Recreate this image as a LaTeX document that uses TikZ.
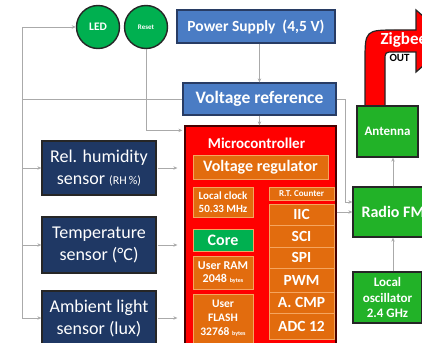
\documentclass[tikz,border=0pt]{standalone}
\usepackage{fontspec}
\setmainfont{Carlito}
\usetikzlibrary{arrows.meta}
\definecolor{cblue}{RGB}{74,124,196}
\definecolor{cblueb}{RGB}{40,60,100}
\definecolor{cnavy}{RGB}{31,56,100}
\definecolor{cgreen}{RGB}{0,176,80}
\definecolor{cgbox}{RGB}{34,178,40}
\definecolor{corange}{RGB}{226,108,14}
\definecolor{corangeb}{RGB}{245,165,95}
\definecolor{cred}{RGB}{255,0,0}
\definecolor{credb}{RGB}{70,0,0}
\definecolor{cline}{RGB}{170,170,170}
\newcommand{\fs}[2]{\fontsize{#1}{#2}\selectfont}
\begin{document}
\begin{tikzpicture}[x=1pt,y=-1pt,
  conn/.style={draw=cline, line width=0.8pt, -{Stealth[length=4pt,width=3.5pt]}},
  plain/.style={draw=cline, line width=0.8pt},
  bx/.style={rectangle, inner sep=0pt, align=center, text=white},
  circ/.style={circle, inner sep=0pt, minimum size=43pt, fill=cgreen, draw=black!85, line width=1.4pt, text=white},
  bluebox/.style={bx, fill=cblue, draw=cblueb, line width=1.3pt},
  navybox/.style={bx, fill=cnavy, draw=black!85, line width=1.3pt, font=\fs{18}{22}},
  redbox/.style={bx, fill=cred, draw=credb, line width=1.3pt},
  orbox/.style={bx, fill=corange, draw=corangeb, line width=0.6pt, font=\bfseries\fs{12}{13.5}},
  corebox/.style={bx, fill=cgreen, draw=corangeb, line width=0.6pt, font=\bfseries\fs{16}{18}},
  cell/.style={orbox, minimum width=65pt, font=\bfseries\fs{15.5}{18}},
  gbox/.style={bx, fill=cgbox, draw=black!85, line width=1.3pt, font=\bfseries\fs{13}{15.5}},
]
\useasboundingbox (0,0) rectangle (422,342);
\clip (0,0) rectangle (422,342);
\fill[white] (0,0) rectangle (422,342);

% circles
\node[circ, font=\bfseries\fs{11.5}{13}] (led) at (98,27) {LED};
\node[circ, font=\bfseries\fs{7}{8}] (reset) at (146,27) {Reset};

% blue boxes
\node[bluebox, minimum width=158pt, minimum height=33pt, font=\bfseries\fs{15.5}{18}] (power) at (256,26.5) {Power Supply\ \ (4,5 V)};
\node[bluebox, minimum width=153pt, minimum height=32pt, font=\bfseries\fs{17.5}{20}] (vref) at (259.5,99) {Voltage reference};

% microcontroller
\node[redbox, minimum width=151pt, minimum height=224pt] (micro) at (260.5,238) {};
\node[text=white, font=\bfseries\fs{15}{18}] (mtitle) at (256.5,143) {Microcontroller};
\node[orbox, minimum width=135pt, minimum height=24pt, font=\bfseries\fs{16}{18}] (vreg) at (260.5,167) {Voltage regulator};
\node[orbox, minimum width=60pt, minimum height=30pt, font=\bfseries\fs{11}{13}] (clock) at (223,202) {Local clock\\50.33 MHz};
\node[orbox, minimum width=65pt, minimum height=13pt, font=\bfseries\fs{9}{10}] (rtc) at (301.5,193.5) {R.T. Counter};
\node[corebox, minimum width=60pt, minimum height=22pt] (core) at (223,240) {Core};
\node[orbox, minimum width=60pt, minimum height=33pt] (ram) at (223,272.5) {User RAM\\2048 {\fs{6}{7}bytes}};
\node[orbox, minimum width=60pt, minimum height=49pt, font=\bfseries\fs{11.5}{14}] (flash) at (223,318.5) {User\\FLASH\\32768 {\fs{6}{7}bytes}};
\node[cell, minimum height=21pt] (iic) at (301.5,214.5) {IIC};
\node[cell, minimum height=22pt] (sci) at (301.5,236) {SCI};
\node[cell, minimum height=21pt] (spi) at (301.5,257.5) {SPI};
\node[cell, minimum height=24pt] (pwm) at (301.5,280) {PWM};
\node[cell, minimum height=21pt] (acmp) at (301.5,302.5) {A. CMP};
\node[cell, minimum height=26pt] (adc) at (301.5,326) {ADC 12};

% sensors
\node[navybox, minimum width=114pt, minimum height=54pt] (hum) at (99,168) {Rel. humidity\\sensor {\fs{12}{14}(RH\,\%)}};
\node[navybox, minimum width=114pt, minimum height=56pt] (temp) at (99,245) {Temperature\\sensor (°C)};
\node[navybox, minimum width=114pt, minimum height=54pt] (amb) at (99,318) {Ambient light\\sensor (lux)};

% zigbee arrow
\draw[fill=cred, draw=black!85, line width=1.2pt] (365,106) -- (365,62) .. controls (365,30) .. (397,30) -- (416,30) -- (416,10) -- (452,41) -- (416,72) -- (416,52) -- (394,52) .. controls (385,52) .. (385,61) -- (385,106) -- cycle;
\node[anchor=base west, text=white, font=\bfseries\fs{17}{20}] (zig) at (377,45) {Zigbee};
\node[anchor=base west, text=black, font=\bfseries\fs{11}{13}] (out) at (386,62) {OUT};

% green boxes
\node[gbox, minimum width=61pt, minimum height=51pt] (ant) at (387.5,131.5) {Antenna};
\node[gbox, minimum width=80pt, minimum height=50pt, font=\bfseries\fs{16}{19}] (radio) at (393,212) {Radio FM};
\node[gbox, minimum width=69pt, minimum height=51pt] (osc) at (387.5,297.5) {Local\\oscillator\\2.4 GHz};

% connectors
\coordinate (b1) at (22,99);
\draw[plain] (vref.west) -- (b1);
\draw[conn] (b1) |- (led.west);
\draw[conn] (b1) |- (hum.west);
\draw[conn] (b1) |- (temp.west);
\draw[conn] (b1) |- (amb.west);
\draw[conn, shorten >=2pt] (reset.south) |- ([yshift=-5pt]micro.north west);
\draw[conn] (vref.north |- power.south) -- (vref.north);
\draw[conn] (vref.south) -- (vref.south |- micro.north);
\draw[conn, shorten <=1pt, shorten >=7pt] (hum.east) -- (hum.east -| micro.west);
\draw[conn, shorten <=1pt, shorten >=7pt] (temp.east) -- (temp.east -| micro.west);
\draw[conn, shorten <=1pt, shorten >=7pt] (amb.east) -- (amb.east -| micro.west);
\draw[conn] (vref.east) -- ++(9,0) |- ([yshift=10pt]radio.west);
\draw[conn] (radio.west -| micro.east) -- (radio.west);
\draw[conn] (radio.north) -- (radio.north |- ant.south);
\draw[conn] (radio.south |- osc.north) -- (radio.south);
\end{tikzpicture}
\end{document}
